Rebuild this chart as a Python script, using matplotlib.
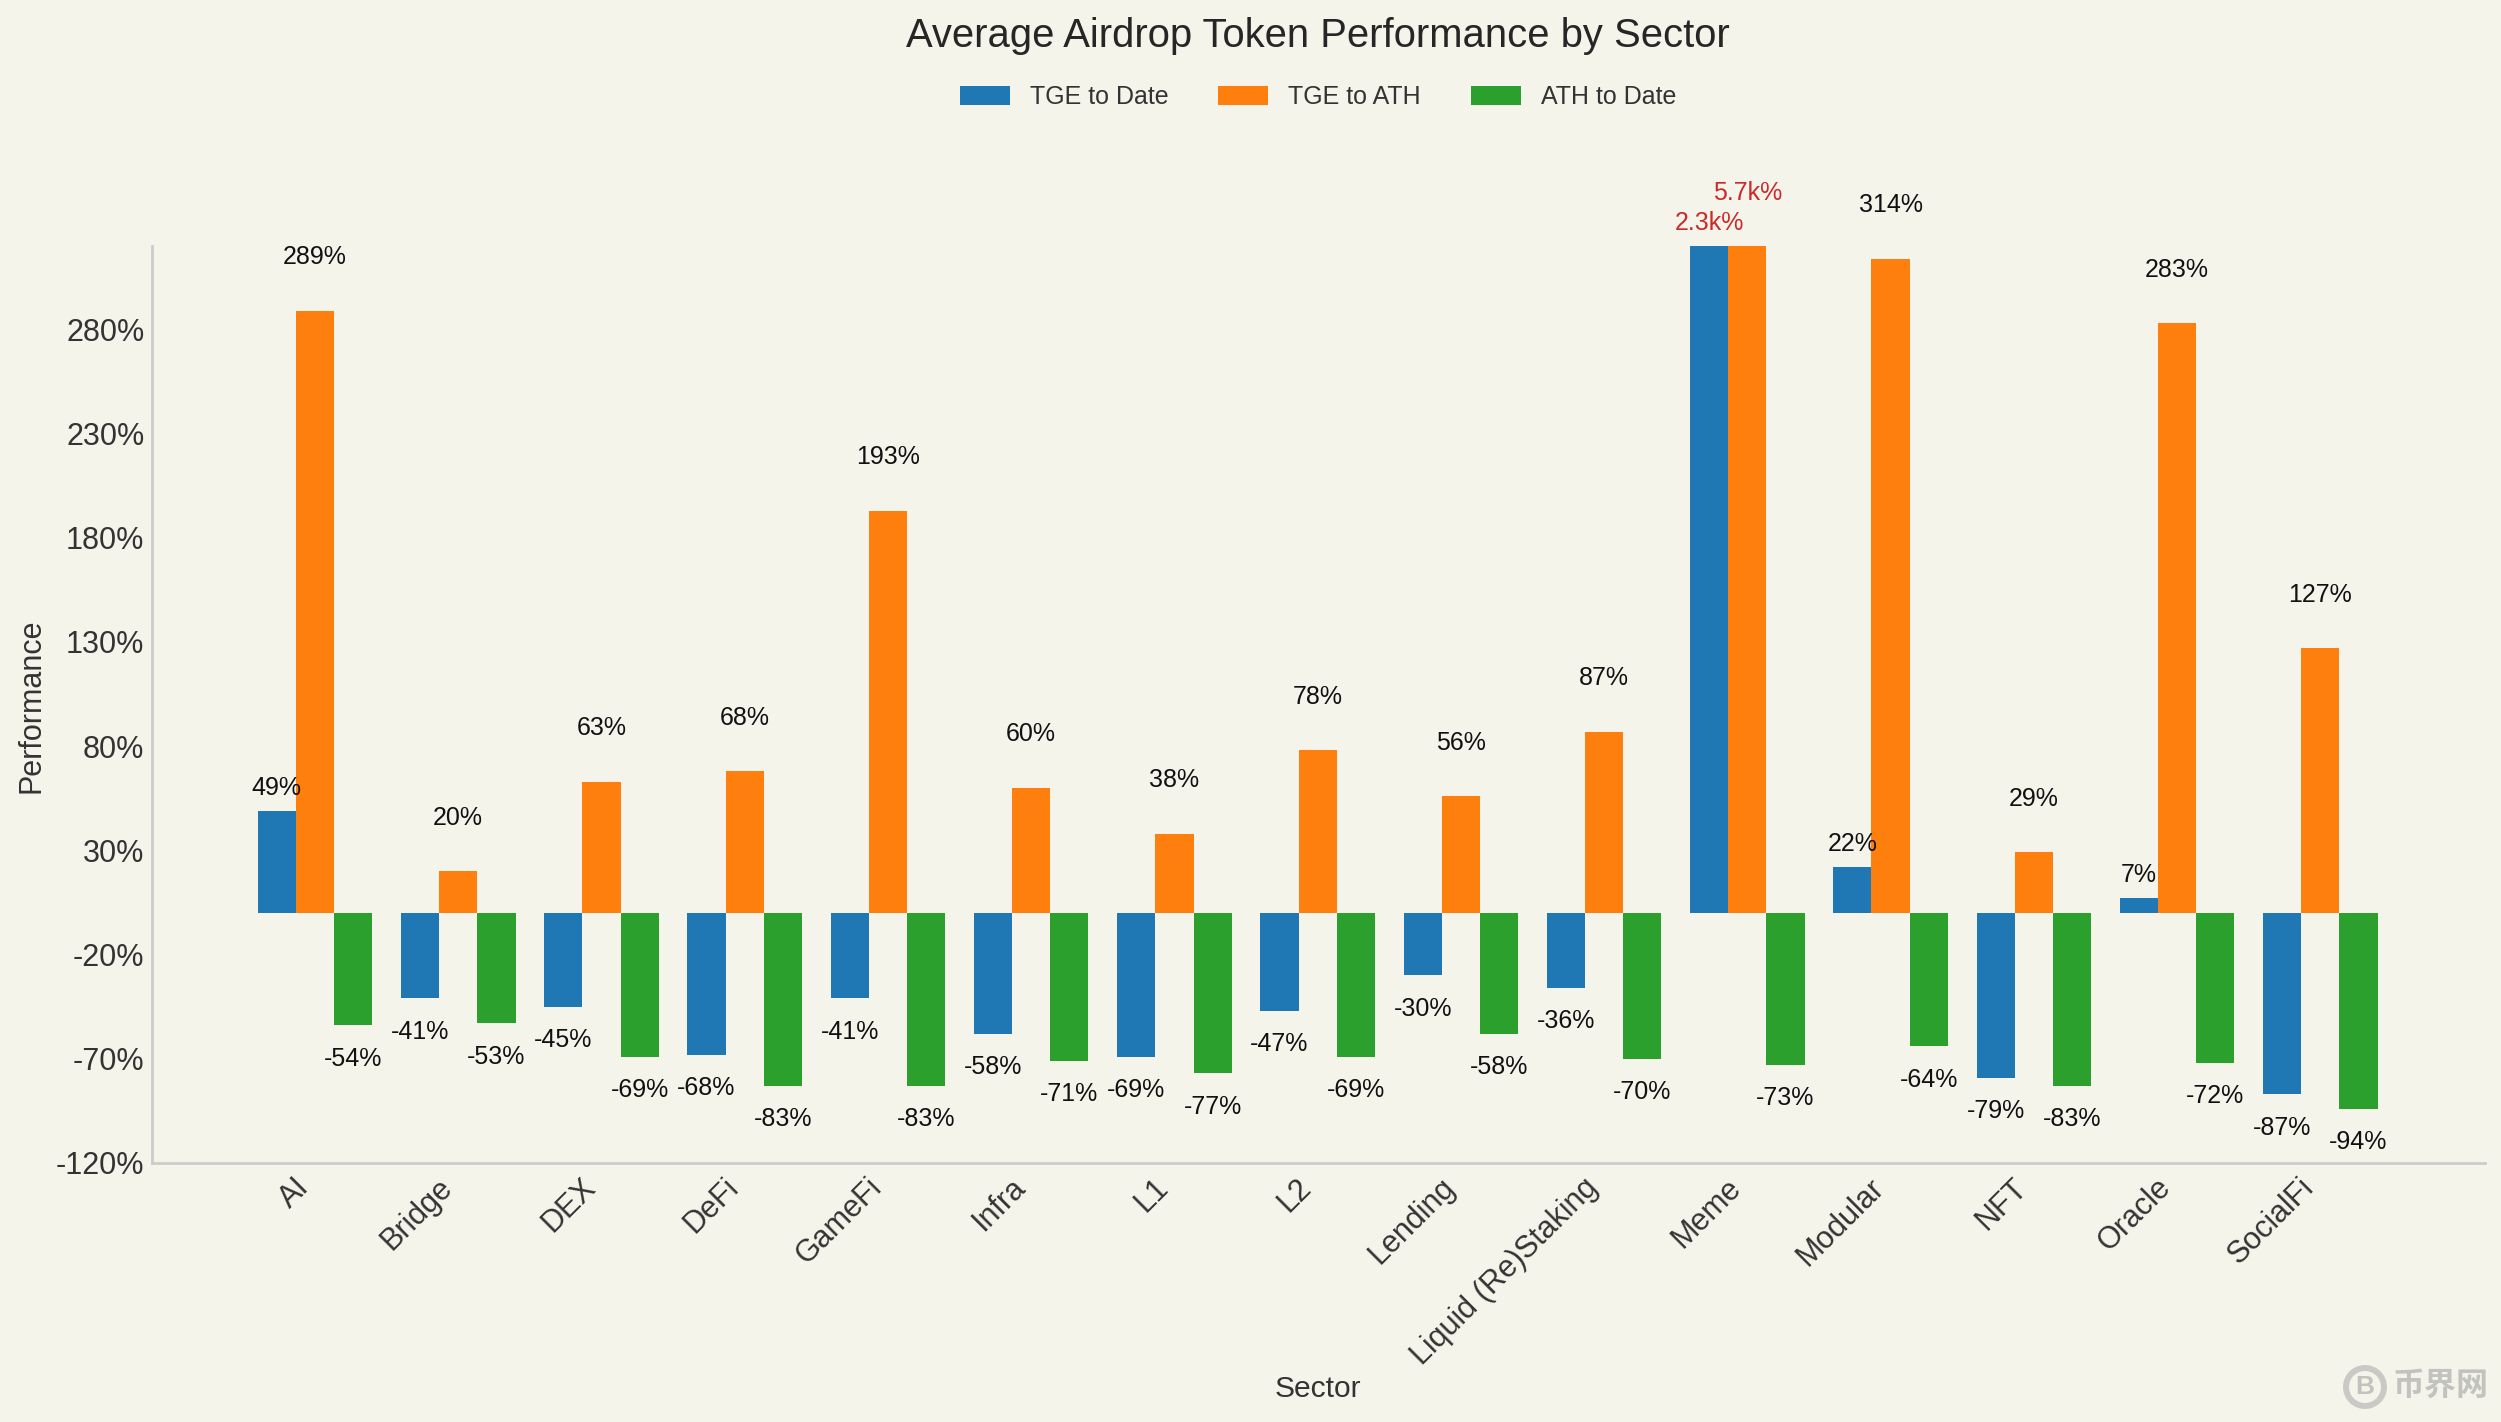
import matplotlib.pyplot as plt
import numpy as np
from matplotlib.patches import Circle

plt.rcParams['font.family'] = ['Liberation Sans', 'Noto Sans CJK SC', 'DejaVu Sans']

sectors = ['AI', 'Bridge', 'DEX', 'DeFi', 'GameFi', 'Infra', 'L1', 'L2', 'Lending',
           'Liquid (Re)Staking', 'Meme', 'Modular', 'NFT', 'Oracle', 'SocialFi']
tge_to_date = [49, -41, -45, -68, -41, -58, -69, -47, -30, -36, 2300, 22, -79, 7, -87]
tge_to_ath = [289, 20, 63, 68, 193, 60, 38, 78, 56, 87, 5700, 314, 29, 283, 127]
ath_to_date = [-54, -53, -69, -83, -83, -71, -77, -69, -58, -70, -73, -64, -83, -72, -94]
y_ticks = [-120, -70, -20, 30, 80, 130, 180, 230, 280]

bg = '#f4f4eb'
y_top = 320
width = 0.8 / 3


def fmt(v):
    if abs(v) >= 1000:
        return f'{v / 1000:.1f}k%'
    return f'{v}%'


fig = plt.figure(figsize=(25.01, 14.22), dpi=100, facecolor=bg)
ax = fig.add_axes([152 / 2501, 1 - 1163 / 1422, (2485 - 152) / 2501, (1163 - 246) / 1422])
ax.set_facecolor(bg)

x = np.arange(len(sectors))
series = [(tge_to_date, 'TGE to Date', '#1f77b4', -width),
          (tge_to_ath, 'TGE to ATH', '#ff7f0e', 0),
          (ath_to_date, 'ATH to Date', '#2ca02c', width)]

for vals, name, color, off in series:
    ax.bar(x + off, vals, width, color=color, label=name)
    for xi, v in zip(x, vals):
        # bars above the axis limit get their label at the top edge, in red
        y = min(v, y_top)
        if v < 0:
            dy = -24
        elif name == 'TGE to ATH':
            dy = 38.5
        else:
            dy = 16.5
        ax.annotate(fmt(v), (xi + off, y), xytext=(0, dy), textcoords='offset points',
                    ha='center', va='center', fontsize=18, annotation_clip=False,
                    color='#cc2a2a' if v >= 1000 else '#111111')

ax.set_xlim(-1.138, 15.15)
ax.set_ylim(-120, y_top)
ax.set_xticks(x)
ax.set_xticklabels(sectors, rotation=45, ha='right', fontsize=22, color='#333333')
ax.set_yticks(y_ticks)
ax.set_yticklabels([f'{t}%' for t in y_ticks], fontsize=22, color='#333333')
ax.tick_params(axis='y', length=0, pad=5.5)
ax.tick_params(axis='x', length=0, pad=7)

for s in ['top', 'right']:
    ax.spines[s].set_visible(False)
for s in ['left', 'bottom']:
    ax.spines[s].set_color('#cccccc')
    ax.spines[s].set_linewidth(2)

fig.text(1318 / 2501, 1 - 36 / 1422, 'Average Airdrop Token Performance by Sector',
         ha='center', va='center', fontsize=28.8, color='#262626')
fig.text(1318 / 2501, 1 - 1389 / 1422, 'Sector', ha='center', va='center', fontsize=21.6, color='#333333')
fig.text(32 / 2501, 1 - 706 / 1422, 'Performance', ha='center', va='center', rotation=90,
         fontsize=22, color='#333333')

fig.legend(loc='center', bbox_to_anchor=(1318 / 2501, 1 - 97 / 1422), ncol=3, frameon=False,
           fontsize=18, labelcolor='#333333', handlelength=2.0, handleheight=0.8, columnspacing=2.0)

# watermark, bottom right
sx, sy = 2501, 1422
fig.add_artist(Circle((2365 / 100, (sy - 1387) / 100), 0.19, transform=fig.dpi_scale_trans, fill=False,
                      ec='#c9c9c6', lw=4.3))
fig.text(2365 / sx, 1 - 1387 / sy, 'B', ha='center', va='center', fontsize=19, fontweight='bold',
         color='#c2c2bf')
fig.text(2393 / sx, 1 - 1387 / sy, '币界网', ha='left', va='center', fontsize=23, fontweight='bold',
         color='#c2c2bf')

plt.savefig('out.png', dpi=100, facecolor=bg)
